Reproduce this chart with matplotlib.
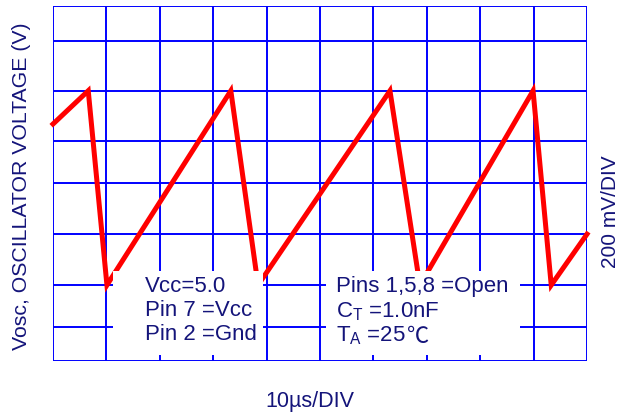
import numpy as np
import matplotlib
matplotlib.use("Agg")
import matplotlib.pyplot as plt

plt.rcParams['font.family'] = ['Liberation Sans', 'DejaVu Sans']
plt.rcParams['mathtext.fontset'] = 'custom'
plt.rcParams['mathtext.rm'] = 'Liberation Sans'

# time in us (10 us / div), voltage in divisions (200 mV / div)
t_us = [0.0, 6.6, 10.1, 33.3, 38.4, 63.1, 68.7, 89.9, 93.3, 100.0]
v_div = [5.34, 6.09, 1.71, 6.09, 1.71, 6.09, 1.71, 6.09, 1.71, 2.86]

# grid divisions as drawn on the scope trace (uneven in the scan)
x_grid = [0, 10, 20, 30, 40, 50, 60, 70, 80, 90, 100]
y_grid = [0, 0.77, 1.71, 2.86, 4.01, 4.96, 6.09, 7.21, 8]

info_left = ["Vcc=5.0", "Pin 7 =Vcc", "Pin 2 =Gnd"]
info_right = ["Pins 1,5,8 =Open", r"C$_\mathregular{T}$ =1.0nF", r"T$_\mathregular{A}$ =25"]

navy = '#14147a'
blue = '#0000ff'

fig = plt.figure(figsize=(6.24, 4.14), dpi=100)
ax = fig.add_axes([53 / 624, 52 / 414, 534 / 624, 355 / 414])
ax.set_xlim(0, 100)
ax.set_ylim(0, 8)

for x in x_grid:
    ax.axvline(x, color=blue, lw=1.4, zorder=1)
for y in y_grid:
    ax.axhline(y, color=blue, lw=1.4, zorder=1)

ax.plot(t_us, v_div, color='#ff0000', lw=3.6, solid_joinstyle='miter', zorder=2, clip_on=False)

for s in ax.spines.values():
    s.set_visible(False)
ax.set_xticks([])
ax.set_yticks([])

# white label boxes covering the grid
def px_box(x0, y0, x1, y1):
    fig.patches.append(plt.Rectangle((x0 / 624, 1 - y1 / 414), (x1 - x0) / 624, (y1 - y0) / 414,
                                     transform=fig.transFigure, facecolor='white',
                                     edgecolor='none', zorder=3))

px_box(113, 272, 263, 356)
px_box(326, 272, 520, 356)

fs = 16
for i, s in enumerate(info_left):
    fig.text(145 / 624, 1 - (287 + 24 * i) / 414, s, fontsize=fs, color=navy,
             va='center', ha='left', zorder=4)
for i, s in enumerate(info_right):
    t = fig.text(336 / 624, 1 - (287 + 24.5 * i) / 414, s, fontsize=fs, color=navy,
                 va='center', ha='left', zorder=4)

fig.canvas.draw()
bb = t.get_window_extent()
fig.text(bb.x1 / 624 + 1 / 624, 1 - 337 / 414, "\u2103", fontsize=fs,
         family=['Noto Sans CJK SC', 'DejaVu Sans'], color=navy, va='center', ha='left', zorder=4)

fig.text(22 / 624, 1 - 186 / 414, "Vosc, OSCILLATOR VOLTAGE (V)", rotation=90,
         fontsize=15.3, color=navy, ha='center', va='center')
fig.text(610 / 624, 1 - 212 / 414, "200 mV/DIV", rotation=90,
         fontsize=15, color=navy, ha='center', va='center')
fig.text(310 / 624, 1 - 402 / 414, "10\u00b5s/DIV", fontsize=15.5, color=navy,
         ha='center', va='center')

fig.savefig("out.png", dpi=100)
